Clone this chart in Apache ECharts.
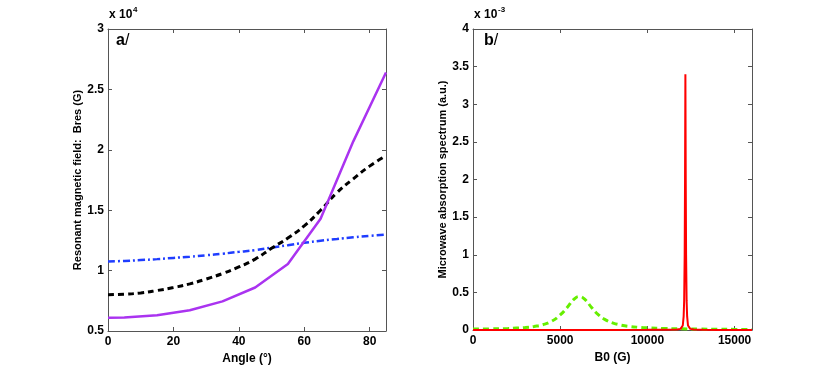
<!DOCTYPE html>
<html>
<head>
    <meta charset="utf-8">
    <title>Bres vs angle and absorption spectrum</title>
    <script src="https://cdn.jsdelivr.net/npm/echarts@6/dist/echarts.min.js"></script>
    <style>
        body { margin: 0; background: #fff; }
    </style>
</head>
<body>
    <div id="main" style="width: 830px;height:372px;"></div>
    <script type="text/javascript">
        // panel a/ : resonant field (x 10^4 G) vs angle
        var anglesA = [0, 5, 15, 25, 35, 45, 55, 65, 75, 85];
        var bresSolid = [0.61, 0.612, 0.63, 0.672, 0.745, 0.86, 1.055, 1.43, 2.07, 2.64];
        var angles5 = [0, 5, 10, 15, 20, 25, 30, 35, 40, 45, 50, 55, 60, 65, 70, 75, 80, 85];
        var bresDashed = [0.80, 0.805, 0.815, 0.835, 0.86, 0.89, 0.93, 0.975, 1.03, 1.095, 1.185, 1.27, 1.37, 1.50, 1.645, 1.76, 1.865, 1.95];
        var bresDashDot = [1.075, 1.08, 1.087, 1.095, 1.105, 1.115, 1.127, 1.14, 1.155, 1.17, 1.19, 1.21, 1.23, 1.247, 1.262, 1.276, 1.288, 1.298];
        var yTicksA = [0.5, 1, 1.5, 2, 2.5, 3];
        var xTicksA = [0, 20, 40, 60, 80];

        // panel b/ : absorption spectrum (x 10^-3) vs B0
        var fieldGreen = [0, 1000, 2000, 2500, 3000, 3500, 4000, 4500, 5000, 5400, 5800, 6100, 6400, 6800, 7200, 7600, 8000, 8500, 9000, 9500, 10000, 11000, 12000, 13000, 14000, 15000, 16000];
        var absGreen = [0.012, 0.015, 0.02, 0.025, 0.033, 0.047, 0.07, 0.115, 0.2, 0.3, 0.41, 0.445, 0.41, 0.3, 0.2, 0.135, 0.095, 0.065, 0.047, 0.036, 0.029, 0.02, 0.015, 0.012, 0.01, 0.008, 0.007];
        var fieldRed = [0, 4000, 8000, 10000, 11000, 11700, 11900, 12030, 12080, 12110, 12140, 12160, 12180, 12200, 12220, 12250, 12280, 12330, 12460, 12660, 13200, 14000, 16000];
        var absRed = [0.0, 0.0, 0.001, 0.002, 0.003, 0.006, 0.015, 0.06, 0.18, 0.39, 1.0, 2.0, 3.4, 2.0, 1.0, 0.39, 0.18, 0.06, 0.015, 0.006, 0.002, 0.001, 0.0];
        var yTicksB = [0, 0.5, 1, 1.5, 2, 2.5, 3, 3.5, 4];
        var xTicksB = [0, 5000, 10000, 15000];

        function pairs(xs, ys) {
            return xs.map(function (x, i) { return [x, ys[i]]; });
        }

        var font = 'Liberation Sans, Arial, sans-serif';
        var frame = '#555';
        var tickLabel = { color: '#000', fontFamily: font, fontWeight: 'bold', fontSize: 12 };

        function axisX(grid, min, max, interval, name, show) {
            return {
                type: 'value', gridIndex: grid, min: min, max: max, interval: interval,
                position: show ? 'bottom' : 'top',
                name: show ? name : '', nameLocation: 'middle', nameGap: 17,
                nameTextStyle: { color: '#000', fontFamily: font, fontWeight: 'bold', fontSize: 12 },
                axisLine: { show: true, onZero: false, lineStyle: { color: frame, width: 1 } },
                axisTick: { show: true, inside: true, length: 4, lineStyle: { color: frame } },
                axisLabel: show ? Object.assign({ margin: 5, showMaxLabel: false, formatter: function (v) { return String(v); } }, tickLabel) : { show: false },
                splitLine: { show: false }
            };
        }
        function axisY(grid, min, max, interval, name, gap, show) {
            return {
                type: 'value', gridIndex: grid, min: min, max: max, interval: interval,
                position: show ? 'left' : 'right',
                name: show ? name : '', nameLocation: 'middle', nameGap: gap,
                nameTextStyle: { color: '#000', fontFamily: font, fontWeight: 'bold', fontSize: 11 },
                axisLine: { show: true, onZero: false, lineStyle: { color: frame, width: 1 } },
                axisTick: { show: true, inside: true, length: 4, lineStyle: { color: frame } },
                axisLabel: show ? Object.assign({ margin: 4 }, tickLabel) : { show: false },
                splitLine: { show: false }
            };
        }

        var myChart = echarts.init(document.getElementById('main'));

        var option = {
            backgroundColor: '#fff',
            animation: false,
            grid: [
                { left: 108, top: 29, width: 278, height: 302 },
                { left: 473, top: 29, width: 279, height: 301 }
            ],
            xAxis: [
                axisX(0, xTicksA[0], 85, 20, 'Angle (°)', true),
                axisX(0, xTicksA[0], 85, 20, '', false),
                axisX(1, xTicksB[0], 16000, 5000, 'B0 (G)', true),
                axisX(1, xTicksB[0], 16000, 5000, '', false)
            ],
            yAxis: [
                axisY(0, yTicksA[0], yTicksA[yTicksA.length - 1], 0.5, 'Resonant magnetic field:  Bres (G)', 23, true),
                axisY(0, yTicksA[0], yTicksA[yTicksA.length - 1], 0.5, '', 0, false),
                axisY(1, yTicksB[0], yTicksB[yTicksB.length - 1], 0.5, 'Microwave absorption spectrum (a.u.)', 21, true),
                axisY(1, yTicksB[0], yTicksB[yTicksB.length - 1], 0.5, '', 0, false)
            ],
            graphic: [
                { type: 'text', left: 109, top: 9, style: { text: 'x 10', font: 'bold 12px ' + font, fill: '#000' } },
                { type: 'text', left: 133, top: 6, style: { text: '4', font: 'bold 8px ' + font, fill: '#000' } },
                { type: 'text', left: 116, top: 33, style: { rich: { a: { font: 'bold 16px ' + font, fill: '#000' }, s: { font: '16px ' + font, fill: '#000' } }, text: '{a|a}{s|/}' } },
                { type: 'text', left: 474, top: 9, style: { text: 'x 10', font: 'bold 12px ' + font, fill: '#000' } },
                { type: 'text', left: 498, top: 6, style: { text: '-3', font: 'bold 8px ' + font, fill: '#000' } },
                { type: 'text', left: 484, top: 33, style: { rich: { a: { font: 'bold 16px ' + font, fill: '#000' }, s: { font: '16px ' + font, fill: '#000' } }, text: '{a|b}{s|/}' } }
            ],
            series: [
                {
                    name: 'dash-dot', type: 'line', xAxisIndex: 0, yAxisIndex: 0, showSymbol: false, smooth: true,
                    data: pairs(angles5, bresDashDot),
                    lineStyle: { color: '#1f3dff', width: 2.5, type: [7, 3, 2, 3] }
                },
                {
                    name: 'dashed', type: 'line', xAxisIndex: 0, yAxisIndex: 0, showSymbol: false, smooth: true,
                    data: pairs(angles5, bresDashed),
                    lineStyle: { color: '#000', width: 3, type: [6, 4] }
                },
                {
                    name: 'solid', type: 'line', xAxisIndex: 0, yAxisIndex: 0, showSymbol: false,
                    data: pairs(anglesA, bresSolid),
                    lineStyle: { color: '#aa33f0', width: 2.5 }
                },
                {
                    name: 'green', type: 'line', xAxisIndex: 2, yAxisIndex: 2, showSymbol: false, smooth: true,
                    data: pairs(fieldGreen, absGreen),
                    lineStyle: { color: '#66ee00', width: 3, type: [6, 4] }
                },
                {
                    name: 'red', type: 'line', xAxisIndex: 2, yAxisIndex: 2, showSymbol: false,
                    data: pairs(fieldRed, absRed),
                    lineStyle: { color: '#ff0000', width: 2 }
                }
            ]
        };

        myChart.setOption(option);
    </script>
</body>
</html>
